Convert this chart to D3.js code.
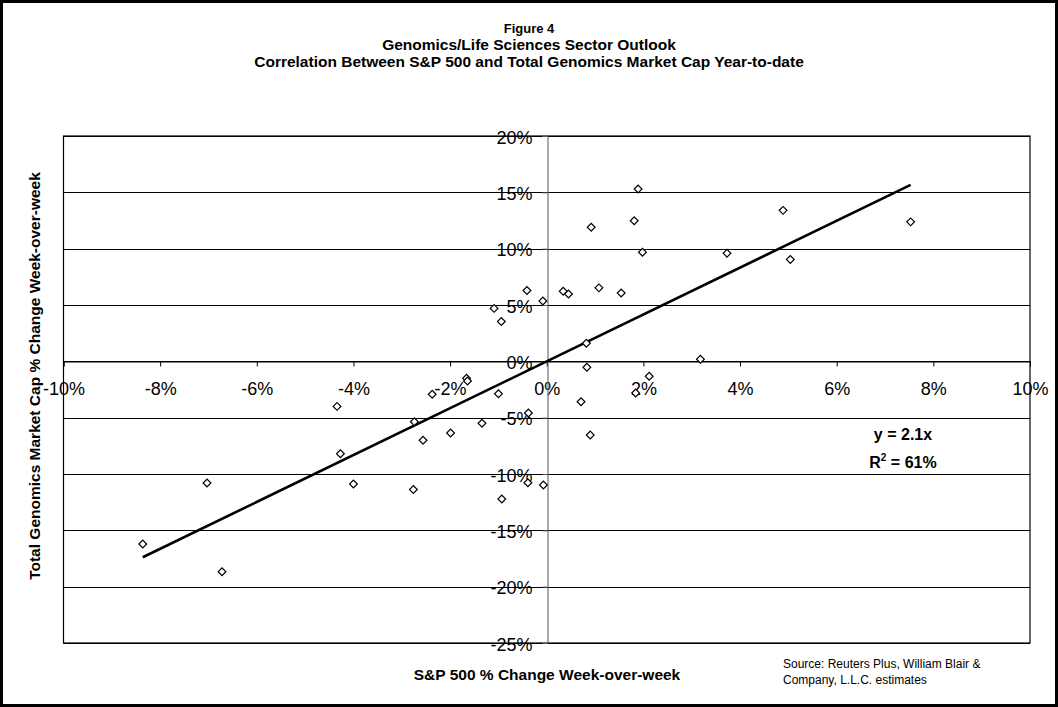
<!DOCTYPE html>
<html>
<head>
<meta charset="utf-8">
<script src="https://cdn.jsdelivr.net/npm/d3@7"></script>
<style>
  html, body { margin: 0; padding: 0; background: #fff; }
  svg { display: block; font-family: "Liberation Sans", Arial, sans-serif; }
</style>
</head>
<body>
<svg id="chart" width="1058" height="707"></svg>
<script>
// ---- Data (percent change week-over-week, as fractions) ----
const spChange = [0.0189, 0.0489, 0.0181, 0.0092, 0.0753, 0.0198, 0.0373, 0.0504, 0.0034, 0.0045,
                  0.0108, 0.0154, -0.0008, 0.0082, 0.0318, 0.0083, 0.0212, -0.0109, -0.0094, -0.0041,
                  0.0184, 0.0071, 0.0090, -0.0007, -0.0836, -0.0703, -0.0672, -0.0434, -0.0427, -0.0400,
                  -0.0274, -0.0276, -0.0256, -0.0237, -0.0199, -0.0166, -0.0164, -0.0134, -0.0100, -0.0038,
                  -0.0093, -0.0039];
const genomicsChange = [0.153, 0.134, 0.1247, 0.119, 0.1238, 0.0968, 0.096, 0.0903, 0.0622, 0.0598,
                        0.0652, 0.0607, 0.0536, 0.016, 0.0018, -0.0053, -0.0133, 0.047, 0.0353, 0.0628,
                        -0.0281, -0.0358, -0.0654, -0.1098, -0.1622, -0.108, -0.1868, -0.040, -0.082, -0.1089,
                        -0.0536, -0.1137, -0.0701, -0.0293, -0.0636, -0.015, -0.0175, -0.055, -0.0287, -0.0458,
                        -0.1222, -0.1077];
const trendSlope = 2.08;
const xTicks = [-0.10, -0.08, -0.06, -0.04, -0.02, 0, 0.02, 0.04, 0.06, 0.08, 0.10];
const yTicks = [-0.25, -0.20, -0.15, -0.10, -0.05, 0, 0.05, 0.10, 0.15, 0.20];
const titleLines = ["Figure 4", "Genomics/Life Sciences Sector Outlook",
                    "Correlation Between S&P 500 and Total Genomics Market Cap Year-to-date"];
const xTitle = "S&P 500 % Change Week-over-week";
const yTitle = "Total Genomics Market Cap % Change Week-over-week";
const sourceLines = ["Source: Reuters Plus, William Blair &", "Company, L.L.C. estimates"];

const W = 1058, H = 707;
const plot = { left: 63.5, right: 1030, top: 136, bottom: 643 };
const svg = d3.select("#chart");

// outer frame
svg.append("rect").attr("x", 1.5).attr("y", 1.5).attr("width", W - 3).attr("height", H - 3)
  .attr("fill", "#fff").attr("stroke", "#000").attr("stroke-width", 3);

const x = d3.scaleLinear().domain([-0.10, 0.10]).range([plot.left, plot.right]);
const y = d3.scaleLinear().domain([-0.25, 0.20]).range([plot.bottom, plot.top]);
const pct = d3.format(".0%");
const fmt = d => pct(d).replace("\u2212", "-");

// title
svg.append("g").selectAll("text").data(titleLines).join("text")
  .attr("x", 529).attr("y", (d, i) => [33, 50, 67][i])
  .attr("text-anchor", "middle").attr("font-weight", "bold")
  .attr("font-size", (d, i) => i === 0 ? 13 : 15.5)
  .text(d => d);

// plot area
svg.append("rect").attr("x", plot.left).attr("y", plot.top)
  .attr("width", plot.right - plot.left).attr("height", plot.bottom - plot.top)
  .attr("fill", "#fff").attr("stroke", "none");

// gridlines
svg.append("g").selectAll("line").data(yTicks).join("line")
  .attr("x1", plot.left).attr("x2", plot.right)
  .attr("y1", d => Math.round(y(d)) + 0.5).attr("y2", d => Math.round(y(d)) + 0.5)
  .attr("stroke", "#000").attr("stroke-width", 1);

// border
svg.append("rect").attr("x", plot.left).attr("y", plot.top)
  .attr("width", plot.right - plot.left).attr("height", plot.bottom - plot.top)
  .attr("fill", "none").attr("stroke", "#000").attr("stroke-width", 1.2);

// x axis at y=0
const xAxis = d3.axisBottom(x).tickValues(xTicks).tickFormat(fmt).tickSize(5).tickPadding(16);
const gx = svg.append("g").attr("transform", `translate(0,${Math.round(y(0)) + 0.5})`).call(xAxis);
gx.select(".domain").attr("stroke", "#000");
gx.selectAll(".tick line").attr("stroke", "#000");
gx.selectAll("text").attr("font-size", 18).attr("font-family", "Liberation Sans, Arial, sans-serif")
  .attr("fill", "#000");

// y axis at x=0
const yAxis = d3.axisLeft(y).tickValues(yTicks).tickFormat(fmt).tickSize(5).tickPadding(10);
const gy = svg.append("g").attr("transform", `translate(${Math.round(x(0)) + 0.5},0)`).call(yAxis);
gy.select(".domain").attr("stroke", "#555");
gy.selectAll(".tick line").attr("stroke", "#555");
gy.selectAll("text").attr("font-size", 18).attr("font-family", "Liberation Sans, Arial, sans-serif")
  .attr("fill", "#000").attr("dy", "0.4em");

// trendline
const xs = d3.extent(spChange);
svg.append("line")
  .attr("x1", x(xs[0])).attr("y1", y(trendSlope * xs[0]))
  .attr("x2", x(xs[1])).attr("y2", y(trendSlope * xs[1]))
  .attr("stroke", "#000").attr("stroke-width", 2.6);

// points
const pts = spChange.map((v, i) => [v, genomicsChange[i]]);
const diamond = d3.symbol().type(d3.symbolSquare).size(30);
svg.append("g").selectAll("path").data(pts).join("path")
  .attr("d", diamond)
  .attr("transform", d => `translate(${x(d[0])},${y(d[1])}) rotate(45)`)
  .attr("fill", "#fff").attr("stroke", "#000").attr("stroke-width", 1.2);

// equation
const eq = svg.append("g").attr("font-weight", "bold").attr("font-size", 16).attr("text-anchor", "middle");
eq.append("text").attr("x", 903).attr("y", 440).text("y = 2.1x");
const r2 = eq.append("text").attr("x", 903).attr("y", 468);
r2.append("tspan").text("R");
r2.append("tspan").attr("font-size", 10).attr("dy", -7).text("2");
r2.append("tspan").attr("dy", 7).text(" = 61%");

// axis titles
svg.append("text").attr("x", 547).attr("y", 680)
  .attr("text-anchor", "middle").attr("font-weight", "bold").attr("font-size", 15.5).text(xTitle);
svg.append("text").attr("transform", `translate(40,376) rotate(-90)`)
  .attr("text-anchor", "middle").attr("font-weight", "bold").attr("font-size", 15.5).text(yTitle);

// source
svg.append("g").selectAll("text").data(sourceLines).join("text")
  .attr("x", 783).attr("y", (d, i) => 668 + i * 16)
  .attr("font-size", 12).text(d => d);
</script>
</body>
</html>
